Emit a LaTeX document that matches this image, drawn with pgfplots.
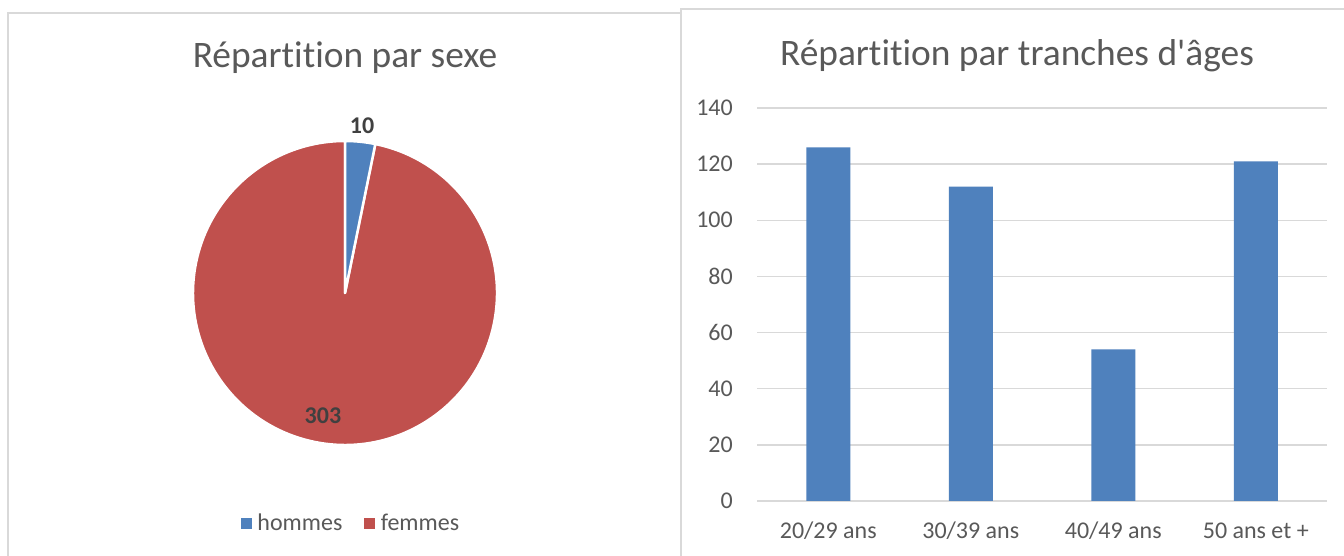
\documentclass[border=0pt]{standalone}
\usepackage{pgfplots}
\pgfplotsset{compat=1.18}
\usepackage{pgfplotstable}
\usepackage{fontspec}
\setmainfont[Ligatures=NoCommon]{Carlito}
\newfontfamily\plainfont[Ligatures=NoCommon]{Carlito}
\definecolor{pieblue}{HTML}{4F81BD}
\definecolor{piered}{HTML}{C0504D}
\definecolor{txt}{HTML}{595959}
\definecolor{lbl}{HTML}{404040}
\definecolor{gridc}{HTML}{D9D9D9}

\pgfplotstableread{
sexe value
hommes 10
femmes 303
}\sexdata

\pgfplotstableread{
x value
0 126
1 112
2 54
3 121
}\agedata

\newcommand{\tickfont}{\fontsize{24bp}{28bp}\selectfont}
\newcommand{\titlefont}{\fontsize{37.4bp}{44bp}\selectfont}

\begin{document}
\begin{tikzpicture}[x=1bp,y=1bp]
\path[fill=white, use as bounding box] (0,0) rectangle (1344,556);
% panel borders
\draw[gridc, line width=1.3bp] (8,0) -- (8,543) -- (680,543);
\draw[gridc, line width=1.3bp] (681,0) -- (681,547) -- (1344,547);

% titles
\node[anchor=base, font=\titlefont, text=txt] at (345,488) {Répartition par sexe};
\node[anchor=base, font=\titlefont\plainfont, text=txt] at (1017,490) {Répartition par tranches d'âges};

% pie values
\pgfplotstablegetelem{0}{value}\of\sexdata \edef\vH{\pgfplotsretval}
\pgfplotstablegetelem{1}{value}\of\sexdata \edef\vF{\pgfplotsretval}
\pgfmathsetmacro\angH{360*\vH/(\vH+\vF)}
\pgfmathsetmacro\endH{90-\angH}

\begin{axis}[
  at={(193bp,111bp)}, anchor=south west,
  scale only axis, width=304bp, height=304bp,
  xmin=-1, xmax=1, ymin=-1, ymax=1,
  hide axis, clip=false,
  legend columns=2,
  legend style={at={(0.52,-0.257)}, anchor=center, draw=none, fill=none,
    font=\tickfont, text=txt,
    /tikz/every odd column/.append style={column sep=4bp},
    /tikz/every even column/.append style={column sep=20bp}},
  legend image code/.code={\fill[#1] (0bp,-5bp) rectangle (10bp,5bp);},
]
\addlegendimage{pieblue}
\addlegendentry{hommes}
\addlegendimage{piered}
\addlegendentry{femmes}
\fill[piered, draw=white, line width=2.5bp, line join=round]
  (axis cs:0,0) -- ++(\endH:152bp) arc[start angle=\endH, end angle=-270, radius=152bp] -- cycle;
\fill[pieblue, draw=white, line width=2.5bp, line join=round]
  (axis cs:0,0) -- ++(90:152bp) arc[start angle=90, end angle=\endH, radius=152bp] -- cycle;
\node[font=\tickfont\bfseries, text=lbl] at (axis cs:0.112,1.099) {\vH};
\node[font=\tickfont\bfseries, text=lbl] at (axis cs:-0.145,-0.806) {\vF};
\end{axis}

\begin{axis}[
  at={(757bp,55bp)}, anchor=south west,
  scale only axis, width=570bp, height=393bp,
  xmin=-0.5, xmax=3.5, ymin=0, ymax=140,
  ytick={0,20,...,140},
  xtick={0,1,2,3},
  xticklabels={20/29 ans, 30/39 ans, 40/49 ans, 50 ans et +},
  ymajorgrids, grid style={gridc, line width=1.3bp},
  axis line style={draw=none},
  major tick length=0pt, tick style={draw=none},
  /pgf/number format/assume math mode=true,
  yticklabel style={font=\tickfont, text=txt, anchor=east, inner sep=0pt, xshift=-24bp},
  xticklabel style={font=\tickfont, text=txt, anchor=base, inner sep=0pt, yshift=-38bp},
  ybar, bar width=44bp,
]
\addplot[fill=pieblue, draw=none] table[x=x, y=value] {\agedata};
\end{axis}
\end{tikzpicture}
\end{document}
